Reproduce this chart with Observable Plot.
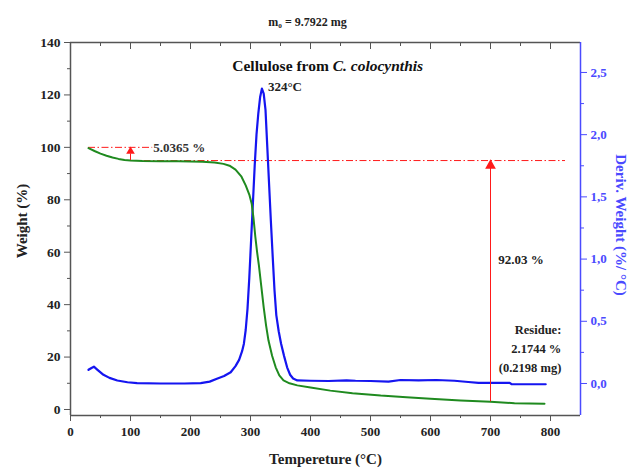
<!DOCTYPE html>
<html>
<head>
<meta charset="utf-8">
<script src="https://cdn.jsdelivr.net/npm/d3@7"></script>
<script src="https://cdn.jsdelivr.net/npm/@observablehq/plot@0.6"></script>
<style>
  html, body { margin: 0; padding: 0; background: #fff; }
  svg { display: block; }
  svg text { font-family: "Liberation Serif", "Times New Roman", serif; }
</style>
</head>
<body>
<div id="chart"></div>
<script>
// ---- Weight (TGA) curve, green: temperature (°C) and weight (%)
const tgaTemp   = [30, 40, 50, 60, 70, 80, 90, 100, 120, 150, 180, 200, 220, 240, 255, 265, 275, 285, 292, 298, 302, 305, 308, 311, 314, 318, 322, 326, 330, 336, 342, 348, 355, 365, 378, 400, 433, 470, 517, 560, 600, 650, 700, 740, 790];
const tgaWeight = [99.7, 98.6, 97.6, 96.8, 96.1, 95.6, 95.2, 95.0, 94.8, 94.7, 94.7, 94.6, 94.5, 94.2, 93.7, 93.0, 91.5, 88.8, 85.5, 82.0, 78.5, 73.0, 66.0, 60.0, 55.0, 47.0, 39.0, 32.0, 26.3, 20.5, 16.1, 13.0, 11.1, 10.0, 9.2, 8.4, 7.2, 6.2, 5.3, 4.7, 4.1, 3.4, 2.93, 2.4, 2.17];

// ---- Derivative (DTG) curve, blue: temperature (°C) and deriv. weight (%/°C)
const dtgTemp  = [30, 35, 39, 45, 55, 65, 78, 95, 111, 150, 190, 217, 232, 244, 256, 267, 275, 281, 286, 289, 292, 295, 298, 301, 304, 307, 310, 313, 316, 319, 322, 325, 328, 331, 334, 337, 340, 343, 347, 351, 356, 361, 366, 371, 378, 400, 430, 460, 475, 500, 530, 550, 580, 610, 640, 663, 680, 732, 735, 792];
const dtgDeriv = [0.11, 0.125, 0.135, 0.11, 0.07, 0.045, 0.024, 0.01, 0.003, 0.0, 0.0, 0.003, 0.015, 0.038, 0.06, 0.09, 0.14, 0.19, 0.26, 0.32, 0.43, 0.6, 0.85, 1.15, 1.45, 1.75, 2.0, 2.17, 2.3, 2.37, 2.33, 2.2, 1.9, 1.6, 1.3, 1.02, 0.75, 0.55, 0.42, 0.32, 0.22, 0.13, 0.07, 0.04, 0.025, 0.022, 0.02, 0.025, 0.022, 0.02, 0.015, 0.028, 0.025, 0.028, 0.022, 0.012, 0.005, 0.005, -0.006, -0.006];

// ---- Axes
const xTicks = [0, 100, 200, 300, 400, 500, 600, 700, 800];
const xMinorTicks = [50, 150, 250, 350, 450, 550, 650, 750];
const yTicks = [0, 20, 40, 60, 80, 100, 120, 140];
const yMinorTicks = [10, 30, 50, 70, 90, 110, 130];
const derivTicks = [0, 0.5, 1.0, 1.5, 2.0, 2.5];
const derivMinorTicks = [0.25, 0.75, 1.25, 1.75, 2.25];

// ---- Annotation values
const initialWeight = 100;
const plateauWeight = 94.9635;       // 100 - 5.0365
const firstLossTemp = 100;
const residueTemp = 700;
const weightAt700 = 2.93;            // plateau - 92.03
const peakTemp = 324;
const peakDeriv = 2.37;
const labels = {
  mass: "m\u2080 = 9.7922 mg",
  titleA: "Cellulose from ",
  titleB: "C. colocynthis",
  firstLoss: "5.0365 %",
  mainLoss: "92.03 %",
  residue: ["Residue:", "2.1744 %", "(0.2198 mg)"],
  peak: "324°C",
  x: "Tempereture (°C)",
  yLeft: "Weight (%)",
  yRight: "Deriv. Weight (%/ °C)"
};

// derivative -> left (weight) axis units: deriv 0 sits at weight ~9.92, 1 %/°C spans ~47.46 weight units
const D0 = 9.92, DK = 47.46;
const toW = d => D0 + d * DK;

const tga = tgaTemp.map((t, i) => ({t, w: tgaWeight[i]}));
const dtg = dtgTemp.map((t, i) => ({t, w: toW(dtgDeriv[i])}));

const FONT = "Liberation Serif, Times New Roman, serif";
const RED = "#ff1a1a";
const BLUE = "#1515f0";
const AXBLUE = "#4a4aff";
const GREEN = "#1f8a1f";
const GRAY = "#555";
const dash = "7,2.5,1.5,2.5";

const chart = Plot.plot({
  width: 631,
  height: 470,
  marginTop: 42,
  marginBottom: 55,
  marginLeft: 70,
  marginRight: 51,
  style: {fontFamily: FONT, fontWeight: "bold", fontSize: "13px", color: "#222", background: "#fff"},
  x: {domain: [0, 850]},
  y: {domain: [-2.29, 140]},
  marks: [
    // frame lines
    Plot.ruleX([0], {stroke: GRAY, strokeWidth: 1.5}),
    Plot.ruleY([-2.29], {stroke: GRAY, strokeWidth: 1.5}),
    Plot.ruleY([140], {stroke: GRAY, strokeWidth: 1.5}),
    Plot.ruleX([850], {stroke: AXBLUE, strokeWidth: 1.5}),
    // bottom axis
    Plot.axisX({anchor: "bottom", ticks: xTicks, tickSize: 6, tickPadding: 5, label: null, tickFormat: d => String(d), stroke: GRAY, fontSize: 13}),
    Plot.axisX({anchor: "bottom", ticks: xMinorTicks, tickSize: 3, label: null, tickFormat: () => "", stroke: GRAY}),
    // top axis (ticks inward)
    Plot.axisX({anchor: "top", ticks: xTicks, tickSize: -6, label: null, tickFormat: () => "", stroke: GRAY}),
    Plot.axisX({anchor: "top", ticks: xMinorTicks, tickSize: -3, label: null, tickFormat: () => "", stroke: GRAY}),
    // left axis
    Plot.axisY({anchor: "left", ticks: yTicks, tickSize: 6, tickPadding: 4, label: null, tickFormat: d => String(d), stroke: GRAY, fontSize: 13.5}),
    Plot.axisY({anchor: "left", ticks: yMinorTicks, tickSize: 3, label: null, tickFormat: () => "", stroke: GRAY}),
    // right axis (derivative)
    Plot.axisY(derivTicks.map(toW), {anchor: "right", tickSize: 6, tickPadding: 4, label: null,
      tickFormat: w => ((w - D0) / DK).toFixed(1).replace(".", ","), stroke: AXBLUE, fill: AXBLUE, fontSize: 13}),
    Plot.axisY(derivMinorTicks.map(toW), {anchor: "right", tickSize: 3, label: null, tickFormat: () => "", stroke: AXBLUE}),

    // red dash-dot reference lines
    Plot.ruleY([initialWeight], {x1: tgaTemp[0], x2: 137, stroke: RED, strokeWidth: 1, strokeDasharray: dash}),
    Plot.ruleY([plateauWeight], {x1: firstLossTemp, x2: 825, stroke: RED, strokeWidth: 1, strokeDasharray: dash}),

    // curves
    Plot.line(dtg, {x: "t", y: "w", stroke: BLUE, strokeWidth: 2.2}),
    Plot.line(tga, {x: "t", y: "w", stroke: GREEN, strokeWidth: 2}),

    // arrows
    Plot.ruleX([firstLossTemp], {y1: plateauWeight, y2: initialWeight - 2.5, stroke: RED, strokeWidth: 1}),
    Plot.dot([firstLossTemp], {x: d => d, y: initialWeight, symbol: "triangle", r: 3.2, fill: RED, stroke: null, dy: 4}),
    Plot.ruleX([residueTemp], {y1: weightAt700, y2: plateauWeight - 3, stroke: RED, strokeWidth: 1}),
    Plot.dot([residueTemp], {x: d => d, y: plateauWeight, symbol: "triangle", r: 4, fill: RED, stroke: null, dy: 5}),

    // texts
    Plot.text([labels.firstLoss], {x: 138, y: initialWeight, text: d => d, textAnchor: "start", fontFamily: FONT, fontSize: 13, fill: "#333"}),
    Plot.text([labels.mainLoss], {x: 713, y: 57, text: d => d, textAnchor: "start", fontFamily: FONT, fontSize: 13, fill: "#222"}),
    Plot.text(labels.residue, {x: 818, y: (d, i) => 30.5 - i * 7.4, text: d => d, textAnchor: "end", fontFamily: FONT, fontSize: 12.5, fill: "#222"}),
    Plot.text([labels.peak], {x: peakTemp + 5, y: toW(peakDeriv) + 0.5, text: d => d, textAnchor: "start", fontFamily: FONT, fontSize: 13, fill: "#222"}),
    Plot.text([labels.titleA], {x: 437, y: 131, text: d => d, textAnchor: "end", fontFamily: FONT, fontSize: 15.5, fill: "#111"}),
    Plot.text([labels.titleB], {x: 437, y: 131, text: d => d, textAnchor: "start", fontFamily: FONT, fontSize: 15.5, fontStyle: "italic", fill: "#111"}),
    Plot.text([labels.mass], {frameAnchor: "top", dx: -18, dy: -25, text: d => d, fontFamily: FONT, fontSize: 12, fill: "#222"}),
    Plot.text([labels.x], {frameAnchor: "bottom", dy: 48, text: d => d, fontFamily: FONT, fontSize: 15, fill: "#222"}),
    Plot.text([labels.yLeft], {frameAnchor: "left", dx: -48, dy: -8, rotate: -90, textAnchor: "middle", text: d => d, fontFamily: FONT, fontSize: 15, fill: "#222"}),
    Plot.text([labels.yRight], {frameAnchor: "right", dx: 40, dy: -4, rotate: 90, textAnchor: "middle", text: d => d, fontFamily: FONT, fontSize: 15, fill: AXBLUE})
  ]
});
document.getElementById("chart").appendChild(chart);
</script>
</body>
</html>
